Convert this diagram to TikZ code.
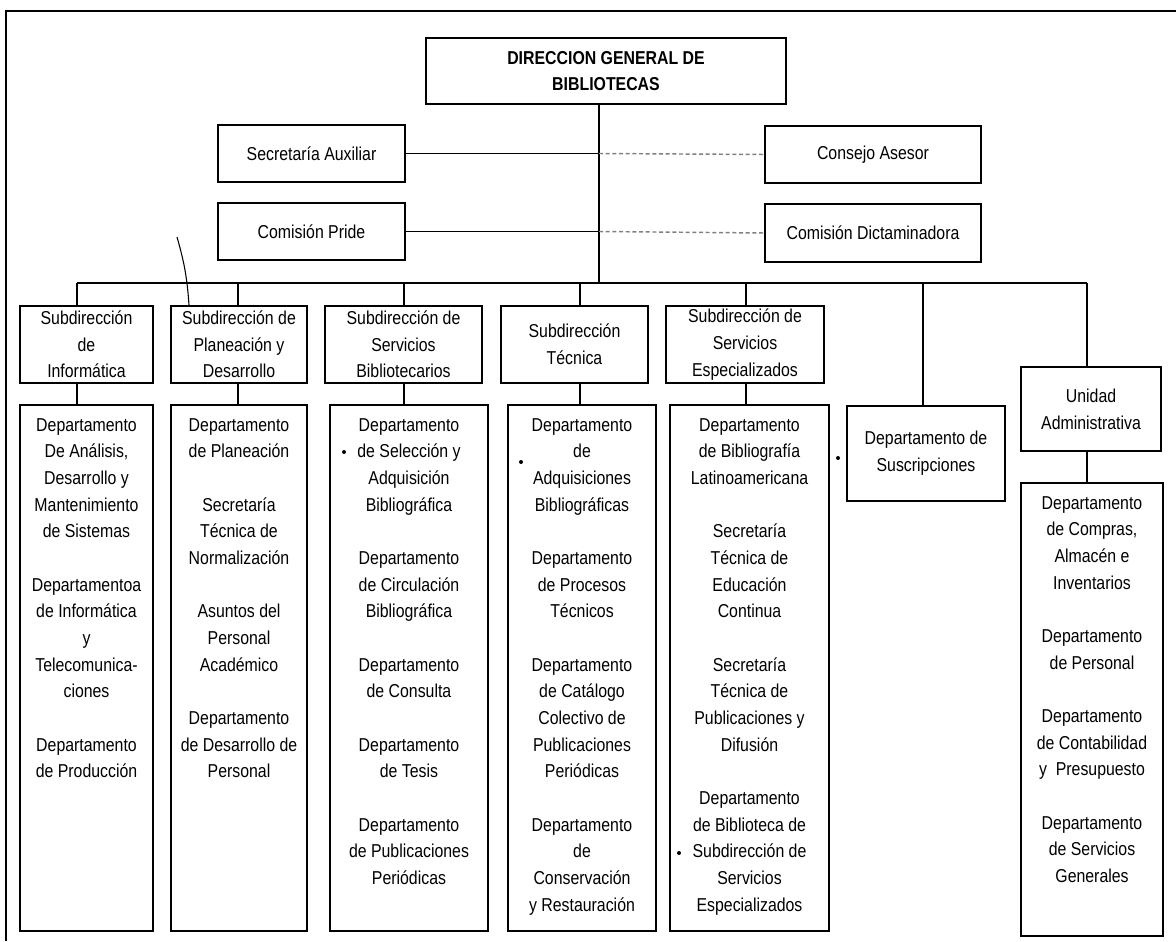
\documentclass[tikz,border=0pt]{standalone}
\usepackage{fontspec}
\setmainfont[FakeStretch=0.85]{Liberation Sans}
\usetikzlibrary{positioning,calc}

\newcommand{\grp}{\\[20pt]}

\begin{document}
\begin{tikzpicture}[x=0.75pt, y=-0.75pt,
  font=\fontsize{14}{20}\selectfont,
  box/.style={draw, line width=1.1pt, inner sep=0pt, align=center},
  sz/.style 2 args={minimum width=#1*0.75pt, minimum height=#2*0.75pt},
  lst/.style={anchor=north, inner sep=0pt, align=center},
  link/.style={line width=1.1pt},
  faint/.style={line width=1.1pt, gray, densely dashed}]

 \useasboundingbox (0,0) rectangle (1176,941);
 \draw[line width=2.2pt] (6,941) -- (6,11) -- (1176,11);

 % top level
 \node[box, sz={360}{66}, font=\fontsize{14}{20}\selectfont\bfseries] (dgb) at (606,71) {DIRECCION GENERAL DE\\BIBLIOTECAS};
 \node[box, sz={187}{57}] (secaux) at (311.5,153.5) {Secretaría Auxiliar};
 \node[box, sz={216}{57}] (consejo) at (873,154.5) {Consejo Asesor};
 \node[box, sz={187}{57}] (pride) at (311.5,231.5) {Comisión Pride};
 \node[box, sz={216}{58}] (dictam) at (873,233) {Comisión Dictaminadora};

 \coordinate (top) at (599,283);
 \draw[link] (dgb.south -| top) -- (top);
 \draw[link] (secaux.east) -- (secaux.east -| top);
 \draw[faint] (secaux.east -| top) -- (consejo.west);
 \draw[link] (pride.east) -- (pride.east -| top);
 \draw[faint] (pride.east -| top) -- (dictam.west);

 % subdirecciones
 \node[box, sz={133}{77}] (sinf) at (86.5,344.5) {Subdirección\\de\\Informática};
 \node[box, sz={136}{77}] (splan) at (239,344.5) {Subdirección de\\Planeación y\\Desarrollo};
 \node[box, sz={157}{77}] (sbib) at (403.5,344.5) {Subdirección de\\Servicios\\Bibliotecarios};
 \node[box, sz={147}{77}] (stec) at (574.5,344.5) {Subdirección\\Técnica};
 \node[box, sz={158}{77}] (sesp) at (745,344.5) {Subdirección de\\Servicios\\Especializados};
 \node[box, sz={158}{95}] (ssusc) at (926,453.5) {Departamento de\\Suscripciones};
 \node[box, sz={140}{84}] (sadm) at (1091,409) {Unidad\\Administrativa};

 \draw[link] (77,283) -- (1087,283);
 \foreach \n/\x in {inf/77, plan/238, bib/404, tec/580, esp/746, susc/923, adm/1087} {
  \coordinate (bus\n) at (\x,283);
  \draw[link] (bus\n) -- (bus\n |- s\n.north);
 }

 % departamentos
 \node[box, sz={133}{526}] (dinf) at (86.5,668) {};
 \node[box, sz={136}{526}] (dplan) at (239,668) {};
 \node[box, sz={158}{526}] (dbib) at (409,668) {};
 \node[box, sz={148}{526}] (dtec) at (582,668) {};
 \node[box, sz={159}{526}] (desp) at (749.5,668) {};
 \node[box, sz={142}{453}] (dadm) at (1092,709.5) {};

 \foreach \n in {inf, plan, bib, tec, esp, adm}
  \draw[link] (bus\n |- s\n.south) -- (bus\n |- d\n.north);

 \node[lst] (tinf) at (dinf.north |- 0,418) {Departamento\\De Análisis,\\Desarrollo y\\Mantenimiento\\de Sistemas\grp
  Departamentoa\\de Informática\\y\\Telecomunica-\\ciones\grp Departamento\\de Producción};
 \node[lst] (tplan) at (dplan.north |- 0,418) {Departamento\\de Planeación\grp Secretaría\\Técnica de\\Normalización\grp
  Asuntos del\\Personal\\Académico\grp Departamento\\de Desarrollo de\\Personal};
 \node[lst] (tbib) at (dbib.north |- 0,418) {Departamento\\de Selección y\\Adquisición\\Bibliográfica\grp
  Departamento\\de Circulación\\Bibliográfica\grp Departamento\\de Consulta\grp Departamento\\de Tesis\grp
  Departamento\\de Publicaciones\\Periódicas};
 \node[lst] (ttec) at (dtec.north |- 0,418) {Departamento\\de\\Adquisiciones\\Bibliográficas\grp
  Departamento\\de Procesos\\Técnicos\grp Departamento\\de Catálogo\\Colectivo de\\Publicaciones\\Periódicas\grp
  Departamento\\de\\Conservación\\y Restauración};
 \node[lst] (tesp) at (desp.north |- 0,418) {Departamento\\de Bibliografía\\Latinoamericana\grp
  Secretaría\\Técnica de\\Educación\\Continua\grp Secretaría\\Técnica de\\Publicaciones y\\Difusión\grp
  Departamento\\de Biblioteca de\\Subdirección de\\Servicios\\Especializados};
 \node[lst] (tadm) at (dadm.north |- 0,496) {Departamento\\de Compras,\\Almacén e\\Inventarios\grp
  Departamento\\de Personal\grp Departamento\\de Contabilidad\\y\ \ Presupuesto\grp
  Departamento\\de Servicios\\Generales};

 % marks on the scan
 \draw[line width=0.8pt] (177,237) to[bend left=6] (189,305);
 \foreach \p in {(344,452), (521,462), (679,853), (838,458)}
  \fill \p circle (2);

\end{tikzpicture}
\end{document}
